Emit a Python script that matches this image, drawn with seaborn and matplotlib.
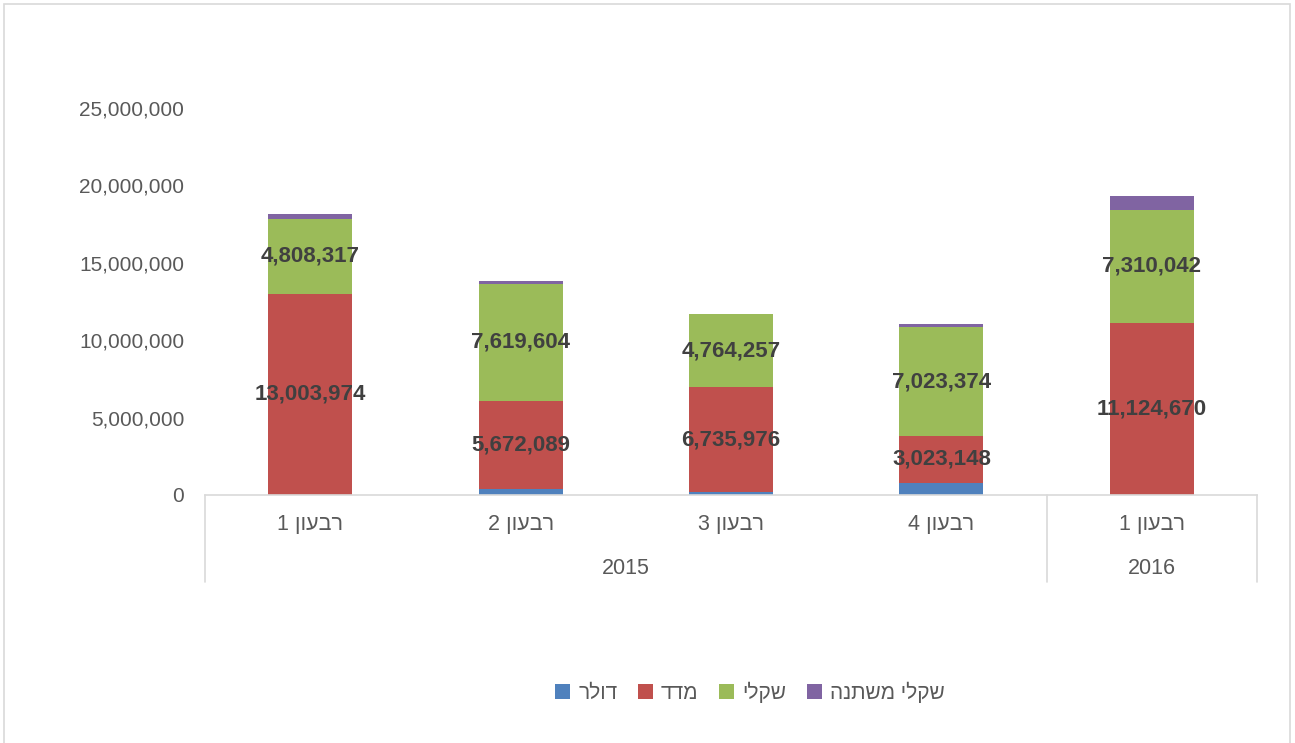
import matplotlib
matplotlib.use("Agg")
import matplotlib.pyplot as plt
import matplotlib.transforms as mtransforms
from matplotlib.patches import Rectangle, Patch
import seaborn as sns
import pandas as pd
import numpy as np

# ---- data ----
quarters = ["רבעון 1", "רבעון 2", "רבעון 3", "רבעון 4", "רבעון 1"]
years = ["2015", "2016"]
year_spans = [(0, 3), (4, 4)]
series_names = ["דולר", "מדד", "שקלי", "שקלי משתנה"]
dollar = [0, 370000, 210000, 790000, 0]
madad = [13003974, 5672089, 6735976, 3023148, 11124670]
shekel = [4808317, 7619604, 4764257, 7023374, 7310042]
shekel_var = [330000, 150000, 0, 200000, 870000]
yticks = [0, 5000000, 10000000, 15000000, 20000000, 25000000]
colors = ["#4F81BD", "#C0504D", "#9BBB59", "#8064A2"]
labeled = [False, True, True, False]


def vis(s):
    """Convert logical RTL Hebrew string to visual order (keeps digit runs)."""
    if not any('\u0590' <= c <= '\u05FF' for c in s):
        return s
    r = s[::-1]
    out, run = [], ""
    for c in r:
        if c.isdigit() or (run and c in ",."):
            run += c
        else:
            if run:
                out.append(run[::-1]); run = ""
            out.append(c)
    if run:
        out.append(run[::-1])
    return "".join(out)


sns.set_theme(style="white")
plt.rcParams['font.family'] = ['Liberation Sans', 'DejaVu Sans']

fig = plt.figure(figsize=(12.95, 7.43), dpi=100)
ax = fig.add_axes([205 / 1295, 1 - 495 / 743, 1052 / 1295, 387 / 743])

series = [dollar, madad, shekel, shekel_var]
x = list(range(len(quarters)))
cum = np.cumsum(np.array(series, dtype=float), axis=0)
bottoms = np.vstack([np.zeros(len(x)), cum[:-1]])

# draw from top layer down so stacks appear
for i in reversed(range(len(series))):
    df = pd.DataFrame({"x": x, "y": cum[i]})
    sns.barplot(data=df, x="x", y="y", color=colors[i], width=0.4,
                saturation=1, ax=ax, linewidth=0, native_scale=True)

for i in range(len(series)):
    if not labeled[i]:
        continue
    for j in x:
        v = series[i][j]
        ax.text(j, bottoms[i][j] + v / 2, f"{v:,.0f}", ha="center", va="center",
                fontsize=16, fontweight="bold", color="#404040")

ax.set_xlim(-0.5, 4.5)
ax.set_ylim(0, 25000000)
ax.set_yticks(yticks)
ax.set_yticklabels([f"{t:,.0f}" for t in yticks], fontsize=15, color="#595959")
ax.tick_params(axis="y", length=0, pad=15)
ax.set_xticks([])
ax.set_xlabel("")
ax.set_ylabel("")
for s in ["top", "right", "left"]:
    ax.spines[s].set_visible(False)
ax.spines["bottom"].set_color("#D9D9D9")
ax.spines["bottom"].set_linewidth(1.2)

trans = mtransforms.blended_transform_factory(ax.transData, ax.transAxes)
for j, q in enumerate(quarters):
    ax.text(j, -0.0775, vis(q), transform=trans, ha="center", va="center",
            fontsize=15.5, color="#595959")
for yname, (a, b) in zip(years, year_spans):
    ax.text((a + b) / 2, -0.189, yname, transform=trans, ha="center", va="center",
            fontsize=15.5, color="#595959")
for xs in [-0.5, 3.5, 4.5]:
    ax.plot([xs, xs], [0, -0.225], transform=trans, color="#D9D9D9", lw=1.2,
            clip_on=False)

handles = [Patch(facecolor=c, edgecolor="none") for c in colors]
fig.legend(handles, [vis(s) for s in series_names], loc="center",
           bbox_to_anchor=(750 / 1295, 1 - 692 / 743), ncol=4, frameon=False,
           fontsize=15, labelcolor="#595959", handlelength=0.7, handleheight=0.7,
           handletextpad=0.4, columnspacing=1.0)

fig.patches.append(Rectangle((4 / 1295, -0.01), 1286 / 1295, 1 - 4 / 743 + 0.01,
                             transform=fig.transFigure, fill=False,
                             edgecolor="#D9D9D9", lw=1.2))

fig.savefig("out.png", dpi=100, facecolor="white")
